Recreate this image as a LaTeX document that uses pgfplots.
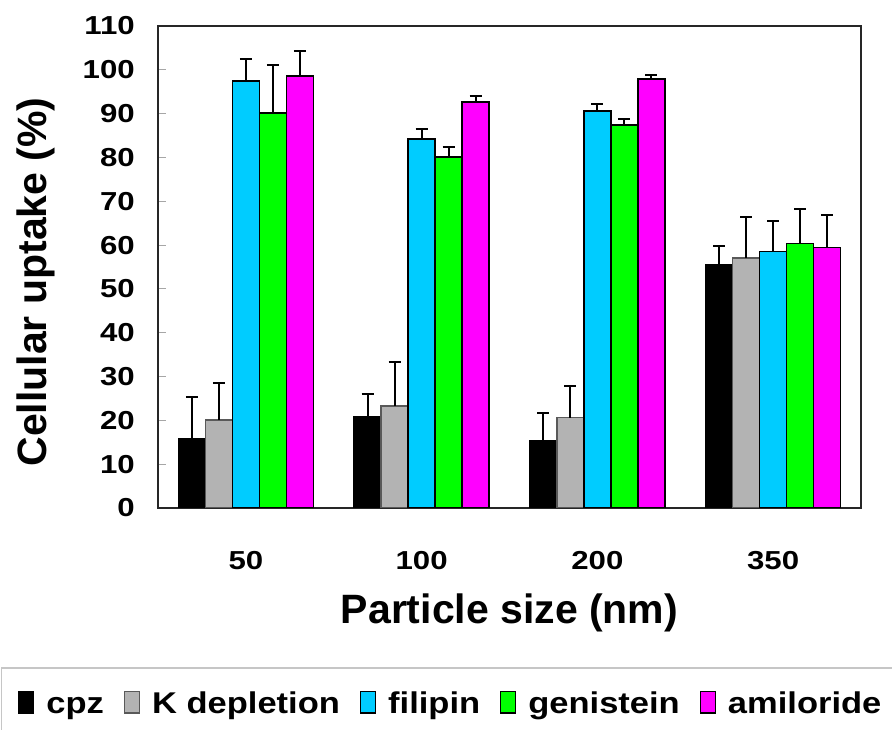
\documentclass[border=0pt]{standalone}
\usepackage{fontspec}
\setmainfont{Liberation Sans}
\newfontfamily\tickfont{Liberation Sans}[FakeStretch=1.2]
\newfontfamily\legfont{Liberation Sans}[FakeStretch=1.15]
\usepackage{pgfplots}
\pgfplotsset{compat=1.18}
\definecolor{cpzc}{RGB}{0,0,0}
\definecolor{kc}{RGB}{179,179,179}
\definecolor{filc}{RGB}{0,204,255}
\definecolor{genc}{RGB}{0,255,0}
\definecolor{amic}{RGB}{255,0,255}
\begin{document}
\begin{tikzpicture}
\path[use as bounding box] (0,0) rectangle (892pt,730pt);
\begin{axis}[
  at={(158pt,222pt)}, anchor=south west,
  scale only axis, width=703pt, height=482pt,
  ybar=0pt, bar width=27pt,
  xmin=-0.5, xmax=3.5, ymin=0, ymax=110,
  axis line style={line width=1.5pt, black!85},
  xtick={0,1,2,3}, xticklabels={50,100,200,350},
  major x tick style={draw=none},
  extra x ticks={0.5,1.5,2.5}, extra x tick labels={},
  extra x tick style={major tick length=8pt, tick style={draw=gray!70, line width=1pt}},
  xtick pos=bottom, ytick pos=left,
  ytick={0,10,...,110},
  major tick length=8pt,
  ytick style={draw=gray!70, line width=1pt},
  /pgf/number format/assume math mode=true,
  ticklabel style={font=\tickfont\bfseries\fontsize{26}{30}\selectfont, inner sep=0pt},
  yticklabel style={xshift=-23pt},
  xticklabel style={yshift=-35pt},
  xlabel={Particle size (nm)},
  xlabel style={at={(rel axis cs:0.5,-0.2386)}, anchor=base, inner sep=0pt, font=\bfseries\fontsize{41}{45}\selectfont},
  ylabel={Cellular uptake (\%)},
  ylabel style={at={(rel axis cs:-0.1579,0.469)}, anchor=base, inner sep=0pt, font=\bfseries\fontsize{41}{45}\selectfont},
  legend columns=-1,
  legend image code/.code={\draw[#1, line width=1.2pt] (0pt,-8pt) rectangle (15pt,13.5pt);},
  legend style={at={(-0.1991,-0.4087)}, anchor=west, draw=none, fill=none, inner sep=0pt,
    font=\legfont\bfseries\fontsize{30}{34}\selectfont,
    nodes={inner sep=0pt, text height=22pt, text depth=6pt},
    /tikz/every odd column/.append style={column sep=12pt},
    /tikz/every even column/.append style={column sep=20pt}},
  error bars/y dir=plus, error bars/y explicit,
  error bars/error bar style={line width=2pt, black},
  error bars/error mark options={rotate=90, mark size=6pt, line width=2pt, black},
]
\addplot[fill=cpzc, draw=black, line width=1.5pt] coordinates {
  (0,15.7) +- (0,9.6) (1,20.8) +- (0,5.2) (2,15.3) +- (0,6.3) (3,55.5) +- (0,4.4)};
\addplot[fill=kc, draw=black!65, line width=1.5pt] coordinates {
  (0,20.1) +- (0,8.4) (1,23.3) +- (0,10.1) (2,20.6) +- (0,7.3) (3,57.1) +- (0,9.3)};
\addplot[fill=filc, draw=black, line width=1.5pt] coordinates {
  (0,97.5) +- (0,5.0) (1,84.2) +- (0,2.4) (2,90.6) +- (0,1.6) (3,58.5) +- (0,6.9)};
\addplot[fill=genc, draw=black, line width=1.5pt] coordinates {
  (0,90.2) +- (0,10.9) (1,80.1) +- (0,2.2) (2,87.4) +- (0,1.4) (3,60.4) +- (0,7.9)};
\addplot[fill=amic, draw=black, line width=1.5pt] coordinates {
  (0,98.6) +- (0,5.7) (1,92.7) +- (0,1.4) (2,97.9) +- (0,0.9) (3,59.5) +- (0,7.3)};
\legend{cpz, K depletion, filipin, genistein, amiloride}
\end{axis}
\draw[gray!45, line width=1.5pt] (1.5pt,0pt) |- (892pt,62pt);
\end{tikzpicture}
\end{document}
